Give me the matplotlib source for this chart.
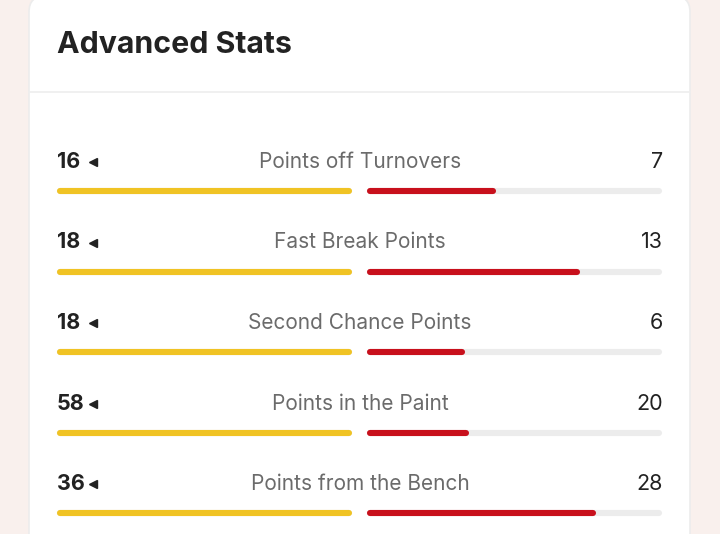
import matplotlib.pyplot as plt
from matplotlib.patches import FancyBboxPatch

# data
labels = ['Points off Turnovers', 'Fast Break Points', 'Second Chance Points',
          'Points in the Paint', 'Points from the Bench']
home = [16, 18, 18, 58, 36]
away = [7, 13, 6, 20, 28]

plt.rcParams['font.family'] = ['Inter', 'DejaVu Sans']

fig = plt.figure(figsize=(7.2, 5.34), dpi=100)
fig.patch.set_facecolor('#f9f0ed')
ax = fig.add_axes([0, 0, 1, 1])
ax.set_xlim(0, 720)
ax.set_ylim(534, 0)
ax.axis('off')

# card
card = FancyBboxPatch((29, -4), 661, 580, boxstyle='round,pad=0,rounding_size=16',
                      facecolor='white', edgecolor='#ececec', linewidth=1.2)
ax.add_patch(card)
ax.plot([29, 690], [92, 92], color='#eeeeee', linewidth=1.2)

ax.text(57, 53, 'Advanced Stats', fontsize=21.8, fontweight='bold', color='#222222',
        va='baseline', ha='left')

lw = 4.4  # bar thickness in pt
r = 3     # round cap radius in px
left_x0, left_x1 = 57, 352
right_x0, right_x1 = 367, 662

for i, (lab, h, a) in enumerate(zip(labels, home, away)):
    base = 168 + i * 80.5
    by = base + 23
    ax.text(57, base, str(h), fontsize=15.5, fontweight='bold', color='#222222',
            va='baseline', ha='left')
    ax.plot([93], [base - 6], marker='<', markersize=6, color='#222222')
    ax.text(360, base, lab, fontsize=15, color='#6b6b6b', va='baseline', ha='center')
    ax.text(663, base, str(a), fontsize=15.5, color='#222222', va='baseline', ha='right')

    big = max(h, a)
    fl = h / big
    fr = a / big
    ax.plot([left_x0 + r, left_x1 - r], [by, by], color='#ececec', linewidth=lw,
            solid_capstyle='round')
    ax.plot([left_x0 + r, left_x0 + fl * (left_x1 - left_x0) - r], [by, by],
            color='#f0c324', linewidth=lw, solid_capstyle='round')
    ax.plot([right_x0 + r, right_x1 - r], [by, by], color='#ececec', linewidth=lw,
            solid_capstyle='round')
    ax.plot([right_x0 + r, right_x0 + fr * (right_x1 - right_x0) - r], [by, by],
            color='#c8101c', linewidth=lw, solid_capstyle='round')

fig.savefig('out.png', dpi=100, facecolor=fig.get_facecolor())
